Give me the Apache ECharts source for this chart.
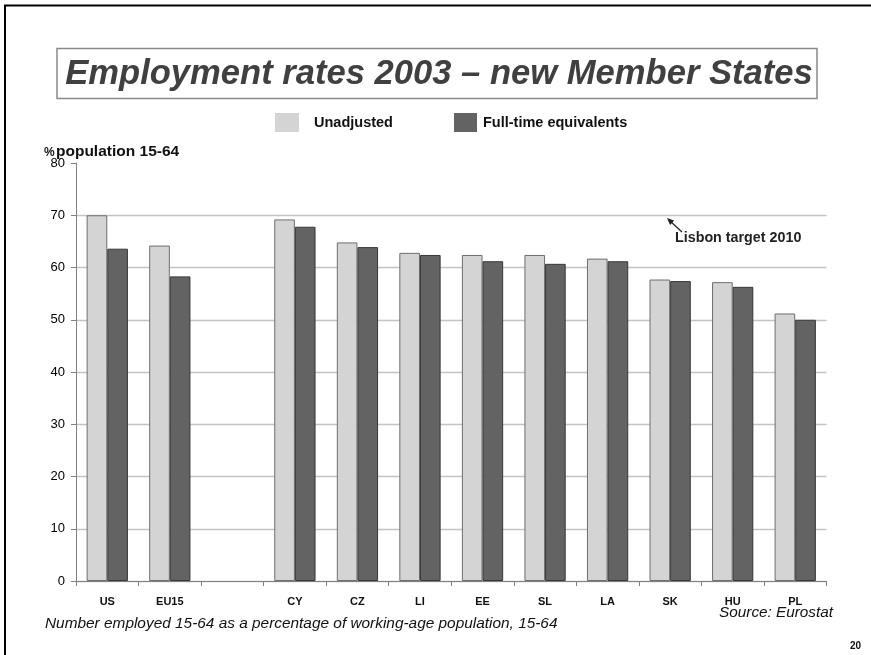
<!DOCTYPE html>
<html>
<head>
<meta charset="utf-8">
<script src="https://cdn.jsdelivr.net/npm/echarts@6/dist/echarts.min.js"></script>
<style>
html,body{margin:0;padding:0;background:#fff;}
#chart{width:871px;height:655px;}
</style>
</head>
<body>
<div id="chart"></div>
<script>
var categories = ['US', 'EU15', '', 'CY', 'CZ', 'LI', 'EE', 'SL', 'LA', 'SK', 'HU', 'PL'];
var unadjusted = [70.0, 64.2, null, 69.2, 64.8, 62.8, 62.4, 62.4, 61.7, 57.7, 57.2, 51.2];
var fullTime = [63.6, 58.3, null, 67.8, 63.9, 62.4, 61.2, 60.7, 61.2, 57.4, 56.3, 50.0];
var seriesNames = ['Unadjusted', 'Full-time equivalents'];
var yMin = 0, yMax = 80, yStep = 10;

var FONT = '"Liberation Sans", Arial, sans-serif';
var chart = echarts.init(document.getElementById('chart'), null, {renderer: 'canvas'});

var option = {
  backgroundColor: '#ffffff',
  animation: false,
  textStyle: {fontFamily: FONT},
  grid: {left: 76, right: 44.5, top: 163, bottom: 74, containLabel: false},
  legend: [
    {
      data: [{name: seriesNames[0], icon: 'rect'}], left: 275, top: 113, padding: 0,
      itemWidth: 24, itemHeight: 19,
      itemStyle: {borderWidth: 0},
      textStyle: {fontFamily: FONT, fontWeight: 'bold', fontSize: 14.5, color: '#111', padding: [0, 0, 0, 10]},
      selectedMode: false
    },
    {
      data: [{name: seriesNames[1], icon: 'rect'}], left: 454, top: 113, padding: 0,
      itemWidth: 23, itemHeight: 19,
      itemStyle: {borderWidth: 0},
      textStyle: {fontFamily: FONT, fontWeight: 'bold', fontSize: 14.5, color: '#111', padding: [0, 0, 0, 1]},
      selectedMode: false
    }
  ],
  xAxis: {
    type: 'category',
    data: categories,
    boundaryGap: true,
    axisLine: {show: true, lineStyle: {color: '#808080', width: 1}},
    axisTick: {show: true, interval: 0, length: 5, inside: false, lineStyle: {color: '#808080'}},
    axisLabel: {interval: 0, margin: 15, fontFamily: FONT, fontWeight: 'bold', fontSize: 11, color: '#111'}
  },
  yAxis: {
    type: 'value',
    min: yMin, max: yMax, interval: yStep,
    axisLine: {show: true, lineStyle: {color: '#808080', width: 1}},
    axisTick: {show: true, length: 5, lineStyle: {color: '#808080'}},
    axisLabel: {margin: 11, fontFamily: FONT, fontSize: 13, color: '#000'},
    splitLine: {show: true, showMaxLine: false, lineStyle: {color: '#c4c4c4', width: 1.3}}
  },
  series: [
    {
      name: seriesNames[0], type: 'bar', data: unadjusted,
      barGap: '0%', barCategoryGap: '34%',
      itemStyle: {color: '#d4d4d4', borderColor: '#6e6e6e', borderWidth: 1}
    },
    {
      name: seriesNames[1], type: 'bar', data: fullTime,
      barGap: '0%', barCategoryGap: '34%',
      itemStyle: {color: '#636363', borderColor: '#383838', borderWidth: 1}
    }
  ],
  graphic: [
    {type: 'line', shape: {x1: 4, y1: 5.5, x2: 871, y2: 5.5}, style: {stroke: '#000', lineWidth: 2}},
    {type: 'line', shape: {x1: 5, y1: 5, x2: 5, y2: 655}, style: {stroke: '#000', lineWidth: 2}},
    {type: 'rect', shape: {x: 57, y: 48.5, width: 760, height: 50}, style: {fill: '#fff', stroke: '#8a8a8a', lineWidth: 1.5}},
    {type: 'text', x: 439, y: 74, style: {text: 'Employment rates 2003 \u2013 new Member States', fontFamily: FONT, fontStyle: 'italic', fontWeight: 'bold', fontSize: 34.6, fill: '#404040', align: 'center', verticalAlign: 'middle'}},
    {type: 'text', x: 44, y: 159, style: {text: '%', fontFamily: FONT, fontSize: 12, fontWeight: 'bold', fill: '#111', verticalAlign: 'bottom'}},
    {type: 'text', x: 56, y: 160, style: {text: 'population 15-64', fontFamily: FONT, fontSize: 15.5, fontWeight: 'bold', fill: '#111', verticalAlign: 'bottom'}},
    {type: 'line', shape: {x1: 682, y1: 232, x2: 670, y2: 221}, style: {stroke: '#222', lineWidth: 1.2}},
    {type: 'polygon', shape: {points: [[667, 218], [674.1, 220.6], [670.1, 225.0]]}, style: {fill: '#222'}},
    {type: 'text', x: 675, y: 238.5, style: {text: 'Lisbon target 2010', fontFamily: FONT, fontWeight: 'bold', fontSize: 14.3, fill: '#222', verticalAlign: 'middle'}},
    {type: 'text', x: 833, y: 613, style: {text: 'Source: Eurostat', fontFamily: FONT, fontStyle: 'italic', fontSize: 15.3, fill: '#111', align: 'right', verticalAlign: 'middle'}},
    {type: 'text', x: 45, y: 624, style: {text: 'Number employed 15-64 as a percentage of working-age population, 15-64', fontFamily: FONT, fontStyle: 'italic', fontSize: 15.4, fill: '#111', verticalAlign: 'middle'}},
    {type: 'text', x: 861, y: 646, style: {text: '20', fontFamily: FONT, fontWeight: 'bold', fontSize: 10, fill: '#111', align: 'right', verticalAlign: 'middle'}}
  ]
};
chart.setOption(option);
</script>
</body>
</html>
